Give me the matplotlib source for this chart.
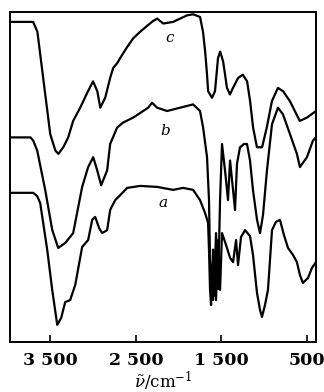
import matplotlib
matplotlib.use("Agg")
import matplotlib.pyplot as plt

plt.rcParams["mathtext.fontset"] = "dejavuserif"

# IR spectra, three samples (offset vertically), transmittance in arbitrary units
wn_a = [3970, 3698, 3652, 3617, 3535, 3477, 3418, 3372, 3325, 3267, 3208, 3127, 3057,
        3010, 2975, 2928, 2893, 2835, 2800, 2741, 2683, 2601, 2450, 2251, 2065, 1948,
        1831, 1750, 1691, 1656, 1645, 1633, 1621, 1609, 1598, 1574, 1563, 1539, 1516,
        1493, 1446, 1399, 1364, 1329, 1306, 1271, 1224, 1166, 1131, 1084, 1049, 1026,
        991, 956, 909, 863, 816, 769, 722, 664, 618, 583, 548, 489, 443, 396]
t_a = [45.2, 45.2, 44.2, 42.1, 27.9, 15.8, 5.2, 7.3, 12.1, 12.7, 17.3, 28.8, 30.9,
       37.0, 37.9, 34.5, 33.0, 33.9, 40.0, 43.0, 44.5, 46.7, 47.3, 47.0, 46.1, 46.7,
       46.1, 43.0, 39.1, 36.1, 27.9, 15.8, 11.2, 21.8, 12.7, 24.8, 12.7, 30.9, 15.8,
       33.0, 29.4, 25.5, 24.2, 30.9, 23.3, 31.8, 33.9, 32.1, 26.4, 14.8, 9.7, 7.6,
       11.2, 15.8, 33.9, 36.4, 37.0, 32.4, 28.5, 26.4, 24.2, 20.3, 17.9, 19.4, 22.4, 24.2]

wn_b = [3970, 3730, 3698, 3652, 3558, 3477, 3407, 3325, 3232, 3127, 3057, 2998, 2951,
        2905, 2835, 2800, 2718, 2648, 2531, 2356, 2310, 2251, 2135, 1983, 1831, 1750,
        1714, 1668, 1645, 1633, 1609, 1598, 1586, 1563, 1539, 1516, 1493, 1458, 1423,
        1399, 1364, 1341, 1318, 1283, 1236, 1201, 1166, 1131, 1084, 1049, 1014, 968,
        909, 839, 781, 699, 618, 583, 501, 431, 396]
t_b = [62, 62, 61, 58, 46, 34, 28.5, 30, 33, 47, 53, 56, 52,
       47.5, 52, 60, 65, 66.5, 68, 71, 72.5, 71, 70, 71, 72, 70,
       65, 56, 43, 25, 16, 28, 14, 33, 16, 43, 60, 52, 43,
       55, 46, 40, 54, 59, 60, 60, 55, 46, 37, 33, 38.5, 52,
       66, 71, 69, 63, 57, 53, 56, 61, 62]

wn_c = [3970, 3700, 3650, 3500, 3440, 3405, 3348, 3290, 3232, 3150, 3068, 3000, 2950,
        2915, 2858, 2800, 2765, 2718, 2660, 2601, 2531, 2450, 2368, 2298, 2250, 2180,
        2065, 1900, 1830, 1750, 1715, 1690, 1668, 1655, 1610, 1575, 1540, 1515, 1480,
        1435, 1400, 1365, 1305, 1250, 1200, 1165, 1130, 1085, 1025, 970, 910, 840, 780,
        700, 585, 500, 395]
t_c = [97, 97, 94, 63, 58, 57, 59, 62, 67, 71, 75.5, 79, 76,
       71, 74, 80, 83, 84.5, 87, 89.4, 92, 94, 95.8, 97.3, 98, 96.5,
       97, 99, 99.3, 98.5, 94, 88, 81, 76, 74, 76, 86, 88, 85,
       77, 75, 77, 80, 81, 79, 73, 65, 59, 59, 65, 73, 77, 76,
       73, 67, 68, 70]

tick_pos = [3500, 2500, 1500, 500]
tick_lab = ["3 500", "2 500", "1 500", "500"]

fig = plt.figure(figsize=(3.24, 3.92), dpi=100)
ax = fig.add_axes([10 / 324, 50 / 392, 306 / 324, 330 / 392])

for wn, t in [(wn_a, t_a), (wn_b, t_b), (wn_c, t_c)]:
    ax.plot(wn, t, color="black", lw=1.6, solid_joinstyle="round")

ax.text(2100, 92, "c", style="italic", fontsize=11, family="DejaVu Serif",
        ha="center", va="center")
ax.text(2160, 64, "b", style="italic", fontsize=11, family="DejaVu Serif",
        ha="center", va="center")
ax.text(2180, 42, "a", style="italic", fontsize=11, family="DejaVu Serif",
        ha="center", va="center")

ax.set_xlim(3970, 395)
ax.set_ylim(0, 100)
ax.set_xticks(tick_pos)
ax.set_xticklabels(tick_lab, fontsize=12.5, fontweight="bold", family="DejaVu Serif")
ax.set_yticks([])
ax.tick_params(axis="x", direction="in", length=5, width=1.2, pad=7)
for s in ax.spines.values():
    s.set_linewidth(1.4)
ax.set_xlabel(r"$\tilde{\nu}$/cm$^{-1}$", fontsize=12, family="DejaVu Serif",
              labelpad=1)

fig.savefig("out.png", dpi=100)
